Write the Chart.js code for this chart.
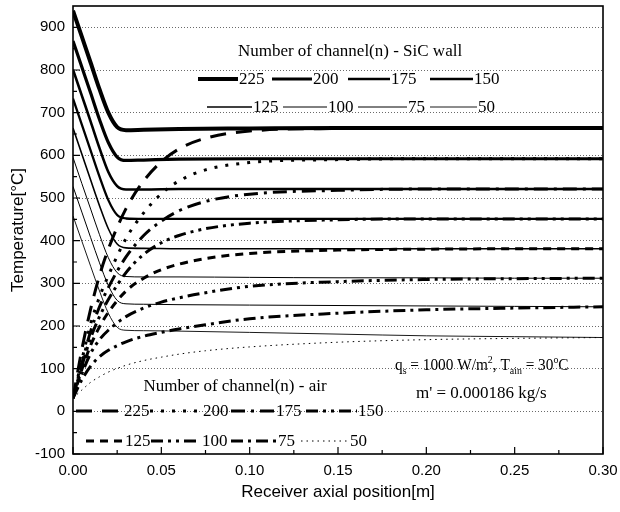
<!DOCTYPE html>
<html>
<head>
<meta charset="utf-8">
<script src="https://cdn.jsdelivr.net/npm/chart.js@4/dist/chart.umd.min.js"></script>
<style>
  html, body { margin: 0; padding: 0; background: #fff; }
</style>
</head>
<body>
<canvas id="chart" width="620" height="512"></canvas>
<script>
// --- datos ---
const channels = [225, 200, 175, 150, 125, 100, 75, 50];

// pared SiC
const xsSic = [0, 0.005, 0.01, 0.015, 0.02, 0.025, 0.03, 0.04, 0.06, 0.1, 0.15, 0.2, 0.25, 0.3];
const sic225 = [939, 878, 817, 755, 700, 666, 659, 660, 662, 663, 664, 664, 664, 664];
const sic200 = [868, 807, 746, 684, 630, 596, 588, 589, 591, 592, 592, 592, 592, 592];
const sic175 = [801, 740, 679, 617, 561, 528, 520, 520, 521, 521, 521, 521, 521, 521];
const sic150 = [733, 672, 611, 550, 495, 460, 452, 451, 451, 451, 451, 451, 451, 451];
const sic125 = [664, 603, 542, 482, 428, 392, 383, 382, 381, 381, 381, 381, 381, 381];
const sic100 = [595, 534, 474, 414, 360, 325, 316, 315, 315, 314, 313, 313, 312, 312];
const sic75  = [527, 467, 407, 348, 295, 260, 252, 251, 250, 249, 248, 247, 246, 245];
const sic50  = [458, 399, 340, 282, 230, 197, 190, 189, 188, 185, 181, 177, 175, 173];

// aire
const xsAir = [0, 0.005, 0.01, 0.015, 0.02, 0.03, 0.04, 0.05, 0.06, 0.075, 0.1, 0.15, 0.2, 0.25, 0.3];
const air225 = [31, 145, 240, 318, 380, 475, 540, 585, 615, 640, 657, 663, 664, 664, 664];
const air200 = [31, 120, 205, 268, 318, 405, 465, 510, 540, 566, 583, 590, 592, 592, 592];
const air175 = [31, 112, 188, 245, 290, 362, 412, 446, 470, 492, 509, 518, 521, 521, 521];
const air150 = [31, 106, 172, 222, 262, 325, 368, 395, 412, 428, 441, 449, 451, 451, 451];
const air125 = [31, 98, 155, 198, 232, 282, 312, 332, 345, 358, 370, 378, 380, 381, 381];
const air100 = [31, 88, 136, 168, 190, 222, 242, 256, 266, 278, 293, 304, 309, 311, 312];
const air75  = [31, 74, 106, 128, 143, 163, 176, 185, 193, 203, 217, 230, 238, 242, 245];
const air50  = [31, 50, 68, 81, 92, 108, 119, 127, 134, 142, 151, 162, 168, 171, 173];

// ejes
const xTickValues = [0, 0.05, 0.1, 0.15, 0.2, 0.25, 0.3];
const xMinorValues = [0.025, 0.075, 0.125, 0.175, 0.225, 0.275];
const yTickValues = [-100, 0, 100, 200, 300, 400, 500, 600, 700, 800, 900];
const yMinorValues = [-50, 50, 150, 250, 350, 450, 550, 650, 750, 850];

// --- estilos ---
const sicSeries = [sic225, sic200, sic175, sic150, sic125, sic100, sic75, sic50];
const airSeries = [air225, air200, air175, air150, air125, air100, air75, air50];
const sicWidths = [4, 3.2, 2.6, 2.3, 1.6, 1, 1, 0.9];
const airWidths = [3, 3, 3, 3, 3, 3, 3, 1];
const airDashes = [
  [16, 10], [3, 8], [14, 6, 3, 6], [12, 5, 3, 5, 3, 5],
  [8, 6], [12, 5, 3, 5, 3, 5], [12, 5, 3, 5], [1.5, 4]
];

function toPoints(xs, ys) {
  return xs.map((x, i) => ({ x: x, y: ys[i] }));
}

const datasets = [];
channels.forEach((n, i) => {
  datasets.push({
    label: 'SiC ' + n,
    data: toPoints(xsSic, sicSeries[i]),
    borderColor: '#000',
    borderWidth: sicWidths[i],
    borderDash: [],
    pointRadius: 0,
    cubicInterpolationMode: 'monotone',
    fill: false
  });
});
channels.forEach((n, i) => {
  datasets.push({
    label: 'air ' + n,
    data: toPoints(xsAir, airSeries[i]),
    borderColor: '#000',
    borderWidth: airWidths[i],
    borderDash: airDashes[i],
    pointRadius: 0,
    cubicInterpolationMode: 'monotone',
    fill: false
  });
});

// --- leyendas y textos (posiciones en pixeles) ---
const serif = '"Liberation Serif", "Times New Roman", serif';

const sicLegend = {
  title: { text: 'Number of channel(n) - SiC wall', x: 350, y: 52 },
  rows: [
    { y: 79, items: [[225, 198, 238], [200, 272, 312], [175, 348, 390], [150, 430, 473]] },
    { y: 107, items: [[125, 207, 252], [100, 283, 327], [75, 358, 407], [50, 430, 477]] }
  ]
};
const airLegend = {
  title: { text: 'Number of channel(n) - air', x: 235, y: 387 },
  rows: [
    { y: 411, items: [[225, 76, 123], [200, 150, 202], [175, 231, 275], [150, 306, 357]] },
    { y: 441, items: [[125, 86, 124], [100, 151, 201], [75, 231, 277], [50, 301, 349]] }
  ]
};

function drawLegend(chart, legend, prefix) {
  const ctx = chart.ctx;
  ctx.save();
  ctx.fillStyle = '#000';
  ctx.font = '17px ' + serif;
  ctx.textBaseline = 'middle';
  ctx.textAlign = 'center';
  ctx.fillText(legend.title.text, legend.title.x, legend.title.y);
  ctx.textAlign = 'left';
  legend.rows.forEach(row => {
    row.items.forEach(([n, x0, x1]) => {
      const ds = chart.data.datasets.find(d => d.label === prefix + n);
      ctx.strokeStyle = '#000';
      ctx.lineWidth = ds.borderWidth;
      ctx.setLineDash(ds.borderDash || []);
      ctx.beginPath();
      ctx.moveTo(x0, row.y);
      ctx.lineTo(x1, row.y);
      ctx.stroke();
      ctx.setLineDash([]);
      ctx.fillText(String(n), x1 + 1, row.y + 1);
    });
  });
  ctx.restore();
}

// texto con sub/superindices, comprimido en horizontal
function drawRich(ctx, parts, x, y, squeeze) {
  ctx.save();
  ctx.translate(x, y);
  ctx.scale(squeeze, 1);
  let cx = 0;
  parts.forEach(([txt, kind]) => {
    let dy = 0;
    if (kind === 'sub') { ctx.font = '11px ' + serif; dy = 4; }
    else if (kind === 'sup') { ctx.font = '11px ' + serif; dy = -7; }
    else ctx.font = '17px ' + serif;
    ctx.fillText(txt, cx, dy);
    cx += ctx.measureText(txt).width;
  });
  ctx.restore();
}

const paperPlugin = {
  id: 'paper',
  afterDraw(chart) {
    const { ctx, chartArea: a, scales: { x, y } } = chart;
    ctx.save();
    // marco
    ctx.strokeStyle = '#000';
    ctx.lineWidth = 1.6;
    ctx.strokeRect(a.left, a.top, a.right - a.left, a.bottom - a.top);
    // marcas hacia dentro
    ctx.lineWidth = 1.2;
    ctx.beginPath();
    xTickValues.forEach(v => { const p = x.getPixelForValue(v); ctx.moveTo(p, a.bottom); ctx.lineTo(p, a.bottom - 7); });
    xMinorValues.forEach(v => { const p = x.getPixelForValue(v); ctx.moveTo(p, a.bottom); ctx.lineTo(p, a.bottom - 4); });
    yTickValues.forEach(v => { const p = y.getPixelForValue(v); ctx.moveTo(a.left, p); ctx.lineTo(a.left + 7, p); });
    yMinorValues.forEach(v => { const p = y.getPixelForValue(v); ctx.moveTo(a.left, p); ctx.lineTo(a.left + 4, p); });
    ctx.stroke();
    ctx.restore();

    drawLegend(chart, sicLegend, 'SiC ');
    drawLegend(chart, airLegend, 'air ');

    ctx.save();
    ctx.fillStyle = '#000';
    ctx.textBaseline = 'alphabetic';
    ctx.textAlign = 'left';
    drawRich(ctx, [['q'], ['s', 'sub'], [' = 1000 W/m'], ['2', 'sup'], [', T'], ['ain', 'sub'], [' = 30'], ['o', 'sup'], ['C']], 395, 370, 0.9);
    drawRich(ctx, [["m' = 0.000186 kg/s"]], 416, 398, 1);
    ctx.restore();
  }
};

Chart.defaults.font.family = '"Liberation Sans", Arial, sans-serif';
Chart.defaults.color = '#000';

new Chart(document.getElementById('chart'), {
  type: 'line',
  data: { datasets: datasets },
  options: {
    responsive: false,
    animation: false,
    layout: { padding: { top: 6, right: 17, bottom: 0, left: 0 } },
    plugins: { legend: { display: false }, tooltip: { enabled: false } },
    scales: {
      x: {
        type: 'linear',
        min: 0,
        max: 0.3,
        afterBuildTicks: s => { s.ticks = xTickValues.map(v => ({ value: v })); },
        afterFit: s => { s.height = 58; s.paddingLeft = 0; s.paddingRight = 0; },
        grid: { display: false, drawTicks: false },
        border: { display: false },
        ticks: {
          padding: 8,
          font: { size: 15 },
          maxRotation: 0,
          callback: v => Number(v).toFixed(2)
        },
        title: {
          display: true,
          text: 'Receiver axial position[m]',
          font: { size: 17 },
          padding: { top: 4, bottom: 9 }
        }
      },
      y: {
        min: -100,
        max: 950,
        afterBuildTicks: s => { s.ticks = yTickValues.map(v => ({ value: v })); },
        afterFit: s => { s.width = 73; s.paddingTop = 0; s.paddingBottom = 0; },
        grid: {
          drawTicks: false,
          color: c => (c.tick && c.tick.value === -100) ? 'rgba(0,0,0,0)' : '#444',
          lineWidth: 0.8
        },
        border: { display: false, dash: [1, 2] },
        ticks: { padding: 8, font: { size: 15 } },
        title: {
          display: true,
          text: 'Temperature[°C]',
          font: { size: 17 },
          padding: { top: 8, bottom: 4 }
        }
      }
    }
  },
  plugins: [paperPlugin]
});
</script>
</body>
</html>
